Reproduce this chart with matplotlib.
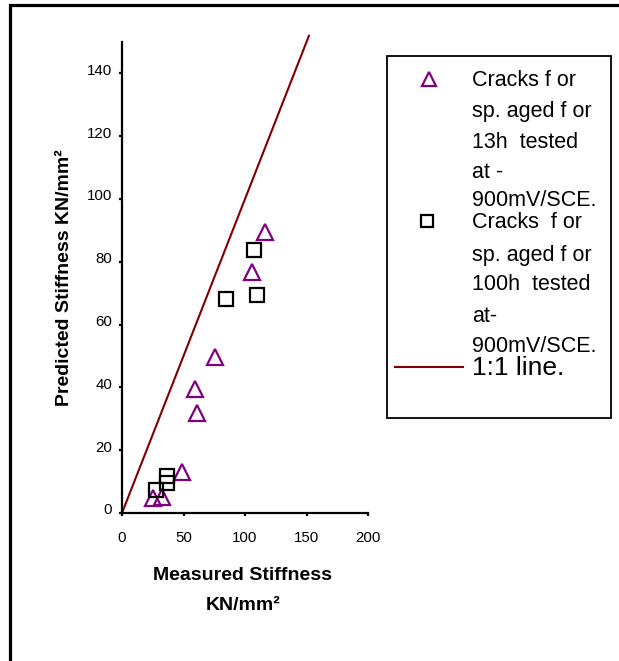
import numpy as np
import matplotlib
matplotlib.use("Agg")
import matplotlib.pyplot as plt
import matplotlib.transforms as mtransforms
from matplotlib.patches import Rectangle
from matplotlib.lines import Line2D

plt.rcParams['font.family'] = ['Liberation Sans', 'DejaVu Sans']

# measured vs predicted stiffness (KN/mm2)
aged13_measured = [116, 105.5, 76, 59.3, 61.2, 49, 25.5, 32.2]
aged13_predicted = [89.4, 76.7, 49.7, 39.6, 31.7, 12.9, 4.7, 5.2]
aged100_measured = [107.6, 84.6, 109.5, 36.3, 36.8, 27.6]
aged100_predicted = [83.6, 68.0, 69.5, 11.8, 9.6, 7.3]
one_to_one = [0, 152]

x_ticks = [0, 50, 100, 150, 200]
y_ticks = [0, 20, 40, 60, 80, 100, 120, 140]

legend13 = ["Cracks f or", "sp. aged f or", "13h  tested", "at -", "900mV/SCE."]
legend100 = ["Cracks  f or", "sp. aged f or", "100h  tested", "at-", "900mV/SCE."]

W, H = 619, 661
fig = plt.figure(figsize=(W / 100, H / 100), dpi=100)

# outer frame
fig.patches.append(Rectangle((10 / W, -0.2), 1.5, 1.2 - 5 / H, transform=fig.transFigure,
                             fill=False, edgecolor='black', linewidth=2.3))

ax = fig.add_axes([122 / W, 148 / H, 246 / W, 471 / H])
ax.set_xlim(0, 200)
ax.set_ylim(0, 150)

ax.plot(one_to_one, one_to_one, color='#800000', linewidth=1.5, clip_on=False, zorder=2)
ax.plot(aged13_measured, aged13_predicted, linestyle='none', marker='^', markersize=12,
        markerfacecolor='none', markeredgecolor='#800080', markeredgewidth=1.6, zorder=3)
ax.plot(aged100_measured, aged100_predicted, linestyle='none', marker='s', markersize=9.5,
        markerfacecolor='none', markeredgecolor='black', markeredgewidth=1.6, zorder=3)

for s in ['top', 'right']:
    ax.spines[s].set_visible(False)
for s in ['left', 'bottom']:
    ax.spines[s].set_linewidth(1.6)

ax.set_xticks(x_ticks)
ax.set_yticks(y_ticks)
ax.tick_params(axis='both', direction='out', length=2, width=1.6, labelsize=10.8)
ax.tick_params(axis='x', pad=11)
ax.tick_params(axis='y', pad=5)
off = mtransforms.ScaledTranslation(0, 3 / 72, fig.dpi_scale_trans)
for lab in ax.get_yticklabels():
    lab.set_transform(lab.get_transform() + off)

ax.set_ylabel("Predicted Stiffness KN/mm²", fontsize=14, fontweight='bold', labelpad=10)
fig.text(243 / W, 1 - 575 / H, "Measured Stiffness", ha='center', va='center',
         fontsize=14, fontweight='bold')
fig.text(243 / W, 1 - 605 / H, "KN/mm²", ha='center', va='center',
         fontsize=14, fontweight='bold')

# legend box drawn by hand
fig.patches.append(Rectangle((387 / W, 1 - 418 / H), 224 / W, 362 / H, transform=fig.transFigure,
                             fill=False, edgecolor='black', linewidth=1.3))
fig.lines.append(Line2D([429 / W], [1 - 79 / H], transform=fig.transFigure, linestyle='none',
                        marker='^', markersize=10, markerfacecolor='none',
                        markeredgecolor='#800080', markeredgewidth=1.6))
fig.lines.append(Line2D([427 / W], [1 - 221 / H], transform=fig.transFigure, linestyle='none',
                        marker='s', markersize=8.5, markerfacecolor='none',
                        markeredgecolor='black', markeredgewidth=1.6))
fig.lines.append(Line2D([395 / W, 463 / W], [1 - 367 / H, 1 - 367 / H], transform=fig.transFigure,
                        color='#800000', linewidth=1.5))

ys13 = [80, 112, 142, 173, 200]
ys100 = [223, 255, 285, 317, 346]
for txt, yy in zip(legend13, ys13):
    fig.text(472 / W, 1 - yy / H, txt, ha='left', va='center', fontsize=15.5)
for txt, yy in zip(legend100, ys100):
    fig.text(472 / W, 1 - yy / H, txt, ha='left', va='center', fontsize=15.5)
fig.text(472 / W, 1 - 368 / H, "1:1 line.", ha='left', va='center', fontsize=19)

fig.savefig("out.png", dpi=100)
